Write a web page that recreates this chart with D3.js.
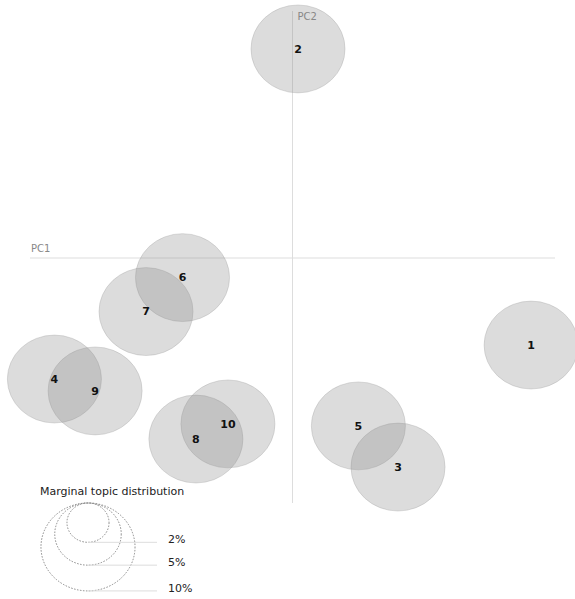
<!DOCTYPE html>
<meta charset="utf-8">
<body style="margin:0;background:#fff">
<script src="https://d3js.org/d3.v7.min.js"></script>
<script>

var width = 575,
    height = 599;

// topic ids, principal component coordinates and marginal share (%)
var topics = ["1", "2", "3", "4", "5", "6", "7", "8", "9", "10"];
var pc1 = [0.909, 0.021, 0.402, -0.907, 0.251, -0.419, -0.558, -0.368, -0.752, -0.246];
var pc2 = [-0.351, 0.843, -0.843, -0.488, -0.677, -0.079, -0.216, -0.730, -0.536, -0.669];
var marginal = [10, 10, 10, 10, 10, 10, 10, 10, 10, 10];

// legend sizes
var legendPct = [2, 5, 10];
var legendLabels = ["2%", "5%", "10%"];

var x = d3.scaleLinear().domain([-1, 1]).range([30, 555]);
var y = d3.scaleLinear().domain([-1, 1]).range([506, 10]);
var r = d3.scaleSqrt().domain([0, 100]).range([0, 139]);
var stretch = 1.07; // circles come out slightly wide in the picture

var svg = d3.select("body").append("svg")
    .attr("width", width)
    .attr("height", height)
    .style("font-family", "DejaVu Sans, sans-serif");

// axes through the origin
svg.append("line")
    .attr("x1", x(-1)).attr("x2", x(1))
    .attr("y1", y(0)).attr("y2", y(0))
    .attr("stroke", "#ddd");
svg.append("line")
    .attr("x1", x(0)).attr("x2", x(0))
    .attr("y1", 11).attr("y2", 503)
    .attr("stroke", "#ddd");
svg.append("text")
    .attr("x", x(-1) + 1).attr("y", y(0) - 6)
    .attr("fill", "#888").style("font-size", "10px")
    .text("PC1");
svg.append("text")
    .attr("x", x(0) + 5).attr("y", 20)
    .attr("fill", "#888").style("font-size", "10px")
    .text("PC2");

var data = topics.map(function(t, i) {
  return {topic: t, x: pc1[i], y: pc2[i], p: marginal[i]};
});

svg.selectAll("ellipse.topic")
    .data(data)
  .enter().append("ellipse")
    .attr("class", "topic")
    .attr("cx", function(d) { return x(d.x); })
    .attr("cy", function(d) { return y(d.y); })
    .attr("rx", function(d) { return r(d.p) * stretch; })
    .attr("ry", function(d) { return r(d.p); })
    .attr("fill", "#858585")
    .attr("fill-opacity", 0.29)
    .attr("stroke", "#999")
    .attr("stroke-opacity", 0.3);

svg.selectAll("text.label")
    .data(data)
  .enter().append("text")
    .attr("class", "label")
    .attr("x", function(d) { return x(d.x); })
    .attr("y", function(d) { return y(d.y); })
    .attr("dy", "0.35em")
    .attr("text-anchor", "middle")
    .style("font-size", "11px")
    .style("font-weight", "bold")
    .attr("fill", "#111")
    .text(function(d) { return d.topic; });

// legend
var lg = svg.append("g");
var lcx = 88, ltop = 503;

lg.append("text")
    .attr("x", 40).attr("y", 495)
    .style("font-size", "11px")
    .attr("fill", "#222")
    .text("Marginal topic distribution");

lg.selectAll("ellipse")
    .data(legendPct)
  .enter().append("ellipse")
    .attr("cx", lcx)
    .attr("cy", function(d) { return ltop + r(d); })
    .attr("rx", function(d) { return r(d) * stretch; })
    .attr("ry", function(d) { return r(d); })
    .attr("fill", "none")
    .attr("stroke", "#888")
    .attr("stroke-dasharray", "1.5 1.5");

lg.selectAll("line")
    .data(legendPct)
  .enter().append("line")
    .attr("x1", lcx).attr("x2", 157)
    .attr("y1", function(d) { return ltop + 2 * r(d); })
    .attr("y2", function(d) { return ltop + 2 * r(d); })
    .attr("stroke", "#ddd");

lg.selectAll("text.lab")
    .data(legendPct)
  .enter().append("text")
    .attr("class", "lab")
    .attr("x", 168)
    .attr("y", function(d) { return ltop + 2 * r(d) + 1; })
    .style("font-size", "11px")
    .attr("fill", "#222")
    .text(function(d, i) { return legendLabels[i]; });

</script>
